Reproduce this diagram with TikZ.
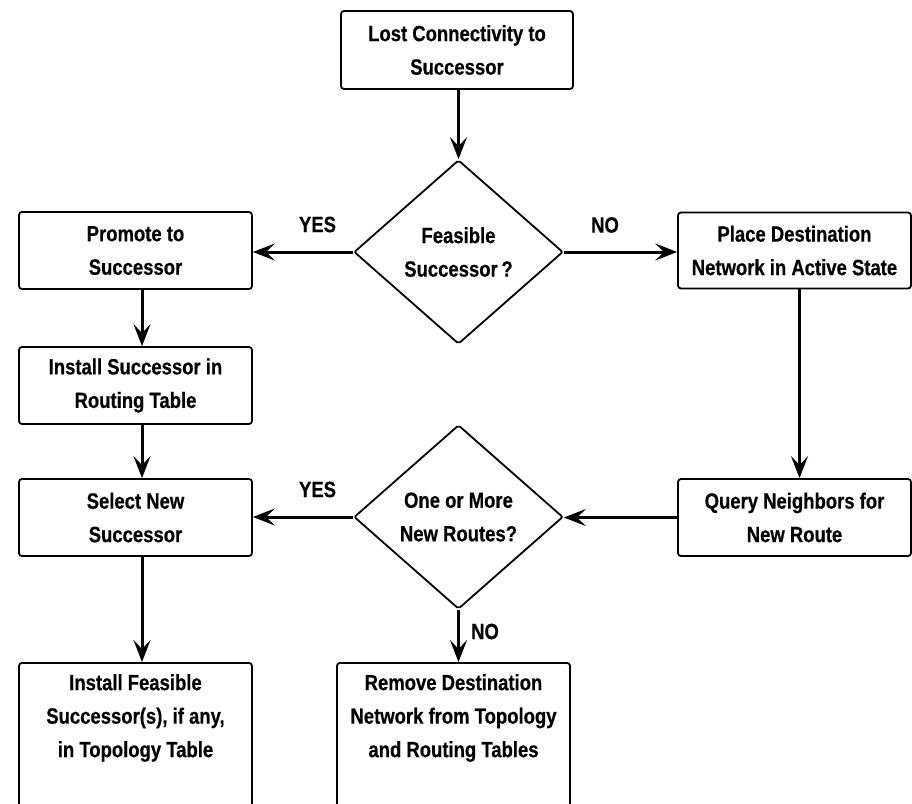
\documentclass[tikz,border=0pt]{standalone}
\usepackage{fontspec}
\newfontfamily\flowfont[FakeStretch=0.84, BoldFeatures={FakeBold=0.5}]{Liberation Sans}
\usetikzlibrary{arrows.meta,shapes.geometric}
\begin{document}
\begin{tikzpicture}[x=1pt,y=-1pt,
  every node/.style={font=\flowfont\bfseries\fontsize{22}{33.5}\selectfont, inner sep=0pt, align=center},
  stepbox/.style={draw, line width=1.8pt, rounded corners=3pt, minimum width=233pt,
    minimum height=77pt},
  decision/.style={diamond, draw, line width=1.8pt, rounded corners=2pt,
    minimum width=209pt, minimum height=184pt},
  flow/.style={line width=3pt, -{Stealth[length=22pt,width=17pt,inset=9pt]}}]
\useasboundingbox (0,0) rectangle (912,803);
\clip (0,0) rectangle (912,803);

% process steps and decisions
\node[stepbox, minimum width=232pt, minimum height=78pt] (lost) at (457,50) {Lost Connectivity to\\Successor};
\node[decision] (feasq) at (458.5,252) {Feasible\\Successor\,?};
\node[stepbox] (promote) at (135.5,250.5) {Promote to\\Successor};
\node[stepbox] (instroute) at (135.5,385.5) {Install Successor in\\Routing Table};
\node[stepbox] (select) at (135.5,517.5) {Select New\\Successor};
\node[stepbox, minimum height=76pt] (active) at (794.5,250.5) {Place Destination\\Network in Active State};
\node[stepbox] (query) at (794.5,517.5) {Query Neighbors for\\New Route};
\node[decision] (routesq) at (458.5,517) {One or More\\New Routes?};

% the two final steps run past the lower edge
\node[stepbox, anchor=north, minimum height=180pt] (insttopo) at (135.5,662) {};
\node[anchor=north] (insttopotext) at ([yshift=-12pt]insttopo.north)
  {Install Feasible\\Successor(s), if any,\\in Topology Table};
\node[stepbox, anchor=north, minimum height=180pt] (remove) at (453.5,662) {};
\node[anchor=north] (removetext) at ([yshift=-12pt]remove.north)
  {Remove Destination\\Network from Topology\\and Routing Tables};

% connectors
\draw[flow] (feasq.north |- lost.south) -- (feasq.north);
\draw[flow] (feasq.west) -- (feasq.west -| promote.east);
\draw[flow] (feasq.east) -- (feasq.east -| active.west);
\draw[flow] ([xshift=6.5pt]promote.south) -- ([xshift=6.5pt]instroute.north);
\draw[flow] ([xshift=6.5pt]instroute.south) -- ([xshift=6.5pt]select.north);
\draw[flow] ([xshift=5pt]active.south) -- ([xshift=5pt]query.north);
\draw[flow] (query.west) -- (query.west -| routesq.east);
\draw[flow] (routesq.west) -- (routesq.west -| select.east);
\draw[flow] (routesq.south) -- (routesq.south |- remove.north);
\draw[flow] ([xshift=6.5pt]select.south) -- ([xshift=6.5pt]insttopo.north);

% branch labels
\node (yes1) at (317.5,224.5) {YES};
\node (no1) at (605,225) {NO};
\node (yes2) at (317.5,489.5) {YES};
\node (no2) at (485,631.5) {NO};
\end{tikzpicture}
\end{document}
